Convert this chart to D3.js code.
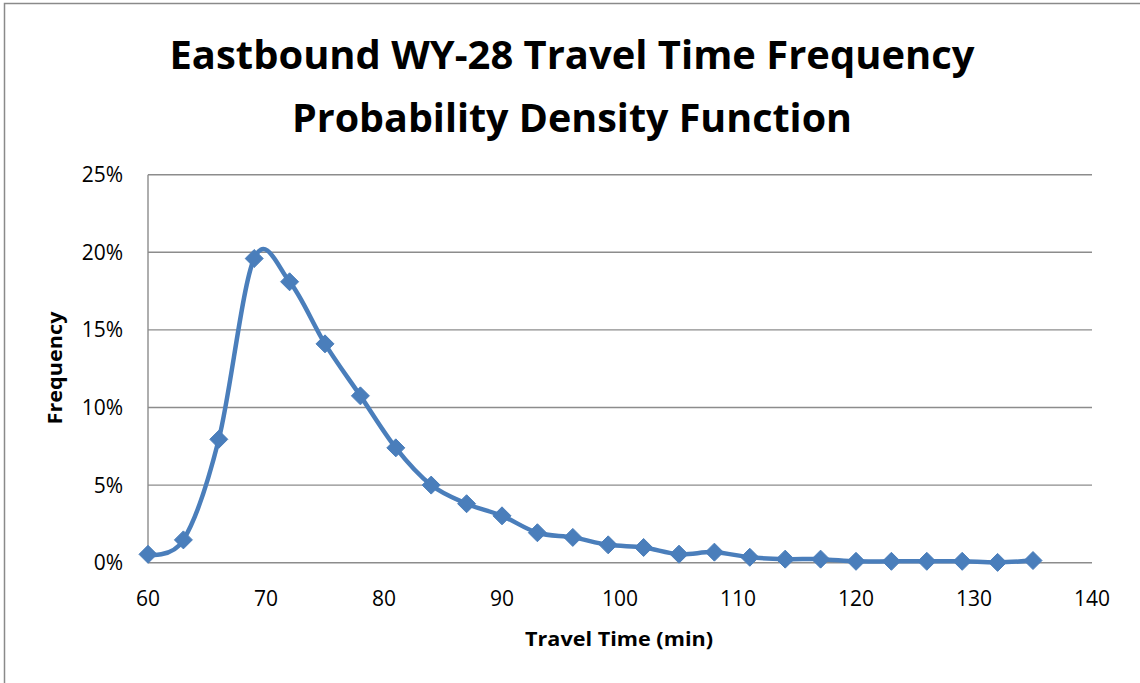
<!DOCTYPE html>
<html>
<head>
<meta charset="utf-8">
<script src="https://cdn.jsdelivr.net/npm/d3@7"></script>
<style>
  html, body { margin: 0; padding: 0; background: #fff; }
  svg { display: block; }
</style>
</head>
<body>
<svg id="chart" width="1140" height="683"></svg>
<script>
const titleLines = ["Eastbound WY-28 Travel Time Frequency", "Probability Density Function"];
const xLabel = "Travel Time (min)";
const yLabel = "Frequency";
const travelTimes = [60, 63, 66, 69, 72, 75, 78, 81, 84, 87, 90, 93, 96, 99, 102, 105, 108, 111, 114, 117, 120, 123, 126, 129, 132, 135];
const frequencies = [0.0054, 0.0147, 0.0795, 0.196, 0.181, 0.141, 0.1075, 0.074, 0.050, 0.038, 0.0302, 0.0193, 0.0163, 0.0115, 0.0098, 0.0055, 0.0068, 0.0035, 0.0023, 0.0023, 0.0009, 0.0009, 0.0009, 0.0009, 0.0002, 0.0014];
const xTicks = [60, 70, 80, 90, 100, 110, 120, 130, 140];
const yTicks = [0, 0.05, 0.10, 0.15, 0.20, 0.25];

const svg = d3.select("#chart");
const font = "'Open Sans', 'DejaVu Sans', sans-serif";

// chart frame (left and top edges visible)
svg.append("path")
  .attr("d", "M4.5,700 L4.5,3.5 L1160,3.5")
  .attr("fill", "none")
  .attr("stroke", "#8a8a8a")
  .attr("stroke-width", 1.5);

const x = d3.scaleLinear().domain([60, 140]).range([148, 1092]);
const y = d3.scaleLinear().domain([0, 0.25]).range([562.7, 174.7]);

// gridlines
svg.append("g")
  .selectAll("line")
  .data(yTicks)
  .join("line")
  .attr("x1", x(60)).attr("x2", x(140))
  .attr("y1", d => y(d)).attr("y2", d => y(d))
  .attr("stroke", "#8c8c8c")
  .attr("stroke-width", 1.4);

// left axis line
svg.append("line")
  .attr("x1", x(60)).attr("x2", x(60))
  .attr("y1", y(0)).attr("y2", y(0.25))
  .attr("stroke", "#8c8c8c")
  .attr("stroke-width", 1.4);

// y tick labels
svg.append("g")
  .selectAll("text")
  .data(yTicks)
  .join("text")
  .attr("x", 123)
  .attr("y", d => y(d))
  .attr("dy", "0.36em")
  .attr("text-anchor", "end")
  .attr("font-family", font)
  .attr("font-size", 21)
  .attr("fill", "#000")
  .text(d => d3.format(".0%")(d));

// x tick labels
svg.append("g")
  .selectAll("text")
  .data(xTicks)
  .join("text")
  .attr("x", d => x(d))
  .attr("y", 606)
  .attr("text-anchor", "middle")
  .attr("font-family", font)
  .attr("font-size", 21)
  .attr("fill", "#000")
  .text(d => d);

// title
svg.append("g")
  .selectAll("text")
  .data(titleLines)
  .join("text")
  .attr("x", 572)
  .attr("y", (d, i) => i === 0 ? 69 : 132)
  .attr("text-anchor", "middle")
  .attr("font-family", font)
  .attr("font-weight", "bold")
  .attr("font-size", 39)
  .attr("textLength", (d, i) => i === 0 ? 805 : 560)
  .attr("lengthAdjust", "spacingAndGlyphs")
  .attr("fill", "#000")
  .text(d => d);

// axis titles
svg.append("text")
  .attr("x", 619)
  .attr("y", 646)
  .attr("text-anchor", "middle")
  .attr("font-family", font)
  .attr("font-weight", "bold")
  .attr("font-size", 20)
  .attr("textLength", 188)
  .attr("lengthAdjust", "spacingAndGlyphs")
  .attr("fill", "#000")
  .text(xLabel);

svg.append("text")
  .attr("transform", "translate(62,368) rotate(-90)")
  .attr("text-anchor", "middle")
  .attr("font-family", font)
  .attr("font-weight", "bold")
  .attr("font-size", 20)
  .attr("textLength", 113)
  .attr("lengthAdjust", "spacingAndGlyphs")
  .attr("fill", "#000")
  .text(yLabel);

// data
const data = travelTimes.map((t, i) => ({ t, f: frequencies[i] }));
const color = "#4a7ebb";

const line = d3.line()
  .x(d => x(d.t))
  .y(d => y(d.f))
  .curve(d3.curveCatmullRom.alpha(0));

svg.append("path")
  .datum(data)
  .attr("d", line)
  .attr("fill", "none")
  .attr("stroke", color)
  .attr("stroke-width", 4.5)
  .attr("stroke-linejoin", "round")
  .attr("stroke-linecap", "round");

const r = 9;
svg.append("g")
  .selectAll("path")
  .data(data)
  .join("path")
  .attr("transform", d => `translate(${x(d.t)},${y(d.f)})`)
  .attr("d", `M0,${-r} L${r},0 L0,${r} L${-r},0 Z`)
  .attr("fill", color)
  .attr("stroke", color)
  .attr("stroke-width", 1);
</script>
</body>
</html>
